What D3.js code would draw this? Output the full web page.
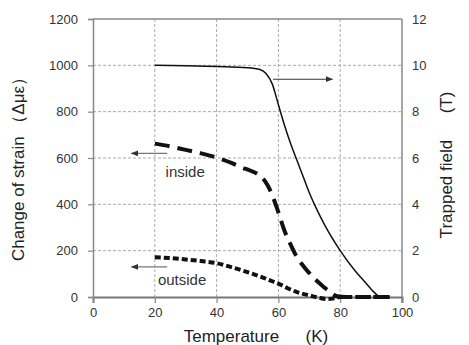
<!DOCTYPE html>
<html>
<head>
<meta charset="utf-8">
<script src="https://cdn.jsdelivr.net/npm/d3@7"></script>
<style>
  body { margin: 0; background: #fff; }
  svg text { font-family: "Liberation Sans", Arial, sans-serif; }
</style>
</head>
<body>
<script>
const width = 469;
const height = 345;

// temperature (K) vs trapped field (T), right axis
const fieldTemp = [20, 30, 40, 50, 54, 56, 58, 60, 62, 64, 66, 68, 70, 72, 75, 80, 85, 88, 91, 93, 96];
const fieldVals = [10.0, 9.98, 9.95, 9.9, 9.82, 9.65, 9.2, 8.3, 7.4, 6.6, 5.9, 5.2, 4.5, 3.9, 3.1, 2.0, 1.1, 0.65, 0.2, 0, 0];

// change of strain inside (με)
const insideTemp = [20, 25, 30, 35, 40, 45, 48, 51, 53, 55, 56.5, 58, 60, 62, 64, 66, 68, 70, 72, 75, 77, 79, 82, 90, 96];
const insideVals = [662, 650, 635, 620, 602, 578, 560, 545, 533, 512, 482, 440, 365, 285, 225, 172, 135, 103, 75, 40, 18, 3, 0, 0, 0];

// change of strain outside (με)
const outsideTemp = [20, 25, 30, 35, 40, 45, 48, 51, 55, 58, 60, 63, 67, 70, 73, 76, 78, 80, 85, 90, 96];
const outsideVals = [172, 168, 162, 155, 146, 128, 116, 103, 84, 68, 58, 38, 17, 7, -3, -9, -6, 0, 0, 0, 0];

const xTicks = [0, 20, 40, 60, 80, 100];
const yTicks = [0, 200, 400, 600, 800, 1000, 1200];
const y2Ticks = [0, 2, 4, 6, 8, 10, 12];

const margin = { top: 19, right: 67, bottom: 48, left: 93 };

const svg = d3.select('body').append('svg')
  .attr('width', width)
  .attr('height', height);

const x = d3.scaleLinear().domain([0, 100]).range([margin.left, width - margin.right]);
const y = d3.scaleLinear().domain([0, 1200]).range([height - margin.bottom, margin.top]);
const y2 = d3.scaleLinear().domain([0, 12]).range([height - margin.bottom, margin.top]);

// grid
svg.append('g')
  .selectAll('line.vgrid')
  .data(xTicks.filter(d => d > 0 && d < 100))
  .join('line')
  .attr('x1', d => x(d)).attr('x2', d => x(d))
  .attr('y1', y(1200)).attr('y2', y(0))
  .attr('stroke', '#aaa').attr('stroke-dasharray', '3,2');

svg.append('g')
  .selectAll('line.hgrid')
  .data(yTicks.filter(d => d > 0 && d < 1200))
  .join('line')
  .attr('x1', x(0)).attr('x2', x(100))
  .attr('y1', d => y(d)).attr('y2', d => y(d))
  .attr('stroke', '#aaa').attr('stroke-dasharray', '3,2');

// frame
svg.append('line')
  .attr('x1', x(0)).attr('x2', x(100)).attr('y1', y(1200)).attr('y2', y(1200))
  .attr('stroke', '#888').attr('stroke-width', 1.5);
svg.append('line')
  .attr('x1', x(100)).attr('x2', x(100)).attr('y1', y(1200)).attr('y2', y(0) + 6)
  .attr('stroke', '#888').attr('stroke-width', 1.5);

// axes
const fmt = d3.format('d');
const xAxis = svg.append('g')
  .attr('transform', `translate(0,${y(0)})`)
  .call(d3.axisBottom(x).tickValues(xTicks).tickFormat(fmt).tickSize(6).tickPadding(5));
const yAxis = svg.append('g')
  .attr('transform', `translate(${x(0)},0)`)
  .call(d3.axisLeft(y).tickValues(yTicks).tickFormat(fmt).tickSize(5).tickPadding(10));
const y2Axis = svg.append('g')
  .attr('transform', `translate(${x(100)},0)`)
  .call(d3.axisRight(y2).tickValues(y2Ticks).tickFormat(fmt).tickSize(0).tickPadding(10));
y2Axis.select('.domain').remove();

[xAxis, yAxis, y2Axis].forEach(a => {
  a.selectAll('.domain').attr('stroke', '#888').attr('stroke-width', 1.5);
  a.selectAll('.tick line').attr('stroke', '#888').attr('stroke-width', 1.2);
  a.selectAll('.tick text').attr('fill', '#333').style('font-size', '13px')
    .style('font-family', '"Liberation Sans", Arial, sans-serif');
});
xAxis.selectAll('.domain').attr('stroke', '#777').attr('stroke-width', 2);

// series
const lineStrain = d3.line().x(d => x(d[0])).y(d => y(d[1])).curve(d3.curveMonotoneX);
const lineField = d3.line().x(d => x(d[0])).y(d => y2(d[1])).curve(d3.curveMonotoneX);

svg.append('path')
  .datum(d3.zip(outsideTemp, outsideVals))
  .attr('d', lineStrain)
  .attr('fill', 'none').attr('stroke', '#111')
  .attr('stroke-width', 4).attr('stroke-dasharray', '6,3');

svg.append('path')
  .datum(d3.zip(insideTemp, insideVals))
  .attr('d', lineStrain)
  .attr('fill', 'none').attr('stroke', '#111')
  .attr('stroke-width', 4).attr('stroke-dasharray', '15,8');

svg.append('path')
  .datum(d3.zip(fieldTemp, fieldVals))
  .attr('d', lineField)
  .attr('fill', 'none').attr('stroke', '#111')
  .attr('stroke-width', 1.5);

// arrows
const defs = svg.append('defs');
defs.append('marker')
  .attr('id', 'arr')
  .attr('viewBox', '0 0 10 10')
  .attr('refX', 9).attr('refY', 5)
  .attr('markerWidth', 6).attr('markerHeight', 6)
  .attr('orient', 'auto-start-reverse')
  .append('path').attr('d', 'M0,1 L10,5 L0,9 Z').attr('fill', '#333');

const arrows = [
  { from: [58.3, 940], to: [77.5, 940], c: '#333' },
  { from: [24, 620], to: [12.5, 620], c: '#777' },
  { from: [24, 130], to: [12.5, 130], c: '#777' }
];
svg.selectAll('line.arrow')
  .data(arrows)
  .join('line')
  .attr('x1', d => x(d.from[0])).attr('y1', d => y(d.from[1]))
  .attr('x2', d => x(d.to[0])).attr('y2', d => y(d.to[1]))
  .attr('stroke', d => d.c).attr('stroke-width', 1.2)
  .attr('marker-end', 'url(#arr)');

// labels
svg.append('text')
  .attr('x', x(23.5)).attr('y', y(520))
  .style('font-size', '15px').attr('fill', '#333')
  .text('inside');
svg.append('text')
  .attr('x', x(21)).attr('y', y(52))
  .style('font-size', '15px').attr('fill', '#333')
  .text('outside');

svg.append('text')
  .attr('x', 256).attr('y', 342)
  .attr('text-anchor', 'middle')
  .style('font-size', '17px').attr('fill', '#222')
  .text('Temperature\u3000\u00a0 (K)');

svg.append('text')
  .attr('transform', 'translate(24,165) rotate(-90)')
  .attr('text-anchor', 'middle')
  .style('font-size', '17px').attr('fill', '#222')
  .text('Change of strain （Δμε）');

svg.append('text')
  .attr('transform', 'translate(452,165) rotate(-90)')
  .attr('text-anchor', 'middle')
  .style('font-size', '17px').attr('fill', '#222')
  .text('Trapped field\u3000\u00a0 (T)');
</script>
</body>
</html>
